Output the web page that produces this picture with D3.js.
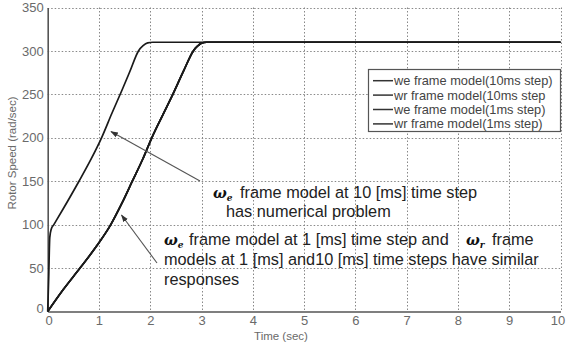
<!DOCTYPE html>
<html><head><meta charset="utf-8">
<script src="https://cdn.jsdelivr.net/npm/d3@7"></script>
<style>
body{margin:0;background:#fff;}
svg{display:block;}
</style></head>
<body>
<svg id="c" width="566" height="345"></svg>
<script>
// ---- data ----
const xTicks = [0,1,2,3,4,5,6,7,8,9,10];
const yTicks = [0,50,100,150,200,250,300,350];
const seriesNames = ["we frame model(10ms step)","wr frame model(10ms step","we frame model(1ms step)","wr frame model(1ms step)"];
const timeWe10 = [0,0.02,0.04,0.07,0.12,0.3,0.61,0.85,1.05,1.25,1.45,1.6,1.77,1.86,1.95,2.05,3,10];
const speedWe10 = [0,40,85,95,100,118,150,176,200,228,255,276,300,306,309.3,310,310,310];
const timeSlow = [0,0.3,0.63,0.95,1.23,1.45,1.65,1.85,2.03,2.25,2.44,2.65,2.84,2.93,3.0,3.1,4,10];
const speedWr10 = [0,25,50,75,100,125,150,175,200,227,250,277,300,306,309,310,310,310];
const speedWe1  = [0,25,50,75,100,125,150,175,200,227,250,277,300,306,309,310,310,310];
const speedWr1  = [0,25,50,75,100,125,150,175,200,227,250,277,300,306,309,310,310,310];
const annot1 = ["frame model at 10 [ms] time step","has numerical problem"];
const annot2 = ["frame model at 1 [ms] time step and","models at 1 [ms] and10 [ms] time steps have similar","responses"];

// ---- layout ----
const svg = d3.select("#c");
const L = 47.7, R = 560.5, T = 7.5, B = 311.5;
const x = d3.scaleLinear().domain([0,10]).range([L,R]);
const y = d3.scaleLinear().domain([0,350]).range([B,T]);

// grid
const grid = svg.append("g").attr("stroke","#888").attr("stroke-width",1).attr("stroke-dasharray","1.5,2");
grid.selectAll("line.v").data(xTicks.slice(1)).join("line")
  .attr("x1",d=>Math.round(x(d))+0.5).attr("x2",d=>Math.round(x(d))+0.5).attr("y1",T).attr("y2",B);
grid.selectAll("line.h").data(yTicks.slice(1)).join("line")
  .attr("y1",d=>Math.round(y(d))+0.5).attr("y2",d=>Math.round(y(d))+0.5).attr("x1",L).attr("x2",R);

// axes
const xAx = svg.append("g").attr("transform",`translate(0,${B})`)
  .call(d3.axisBottom(x).tickValues(xTicks).tickSize(0).tickPadding(4));
const yAx = svg.append("g").attr("transform",`translate(${L},0)`)
  .call(d3.axisLeft(y).tickValues(yTicks).tickSize(0).tickPadding(4));
[xAx,yAx].forEach(a=>{
  a.select(".domain").attr("stroke","#555").attr("stroke-width",1.6);
  a.selectAll("text").attr("fill","#6a6a6a").style("font-family","Liberation Sans, Arial, sans-serif").style("font-size","13px");
});
yAx.selectAll(".tick text").filter(d=>d===0).attr("dy","0.05em");
xAx.selectAll(".tick text").filter(d=>d===0).attr("dx","1px");
xAx.selectAll(".tick text").filter(d=>d===10).attr("dx","-3px");

// axis titles
svg.append("text").attr("x",281).attr("y",340).attr("text-anchor","middle")
  .attr("fill","#6a6a6a").style("font-family","Liberation Sans, Arial, sans-serif").style("font-size","11.5px").text("Time (sec)");
svg.append("text").attr("transform",`translate(16,${153}) rotate(-90)`).attr("text-anchor","middle")
  .attr("fill","#6a6a6a").style("font-family","Liberation Sans, Arial, sans-serif").style("font-size","11.5px").text("Rotor Speed (rad/sec)");

// lines
const line = d3.line().x(d=>x(d[0])).y(d=>y(d[1])).curve(d3.curveMonotoneX);
const series = [
  {t:timeSlow, v:speedWr1},
  {t:timeSlow, v:speedWe1},
  {t:timeSlow, v:speedWr10},
  {t:timeWe10, v:speedWe10}
];
svg.append("g").selectAll("path").data(series).join("path")
  .attr("d",s=>line(s.t.map((t,i)=>[t,s.v[i]])))
  .attr("fill","none").attr("stroke","#1a1a1a").attr("stroke-width",1.7).attr("stroke-linejoin","round");

// legend
const lg = svg.append("g");
lg.append("rect").attr("x",368.5).attr("y",69.5).attr("width",192).attr("height",62)
  .attr("fill","#fff").attr("stroke","#555").attr("stroke-width",1.2);
seriesNames.forEach((n,i)=>{
  const cy = 80.7 + i*14.4;
  lg.append("line").attr("x1",373).attr("x2",393).attr("y1",cy).attr("y2",cy).attr("stroke","#333").attr("stroke-width",1.5);
  lg.append("text").attr("x",394).attr("y",cy).attr("dy","0.35em").attr("fill","#444")
    .style("font-family","Liberation Sans, Arial, sans-serif").style("font-size","12.8px").text(n);
});

// annotations
const defs = svg.append("defs");
defs.append("marker").attr("id","ah").attr("viewBox","0 0 10 10").attr("refX",9).attr("refY",5)
  .attr("markerWidth",7).attr("markerHeight",7).attr("orient","auto")
  .append("path").attr("d","M0,1.5 L10,5 L0,8.5 z").attr("fill","#333");
function arrow(x1,y1,x2,y2){
  svg.append("line").attr("x1",x1).attr("y1",y1).attr("x2",x2).attr("y2",y2)
    .attr("stroke","#555").attr("stroke-width",1.1).attr("marker-end","url(#ah)");
}
arrow(200,181,111,131.5);
arrow(157,263,121.5,215);

const af = "Liberation Sans, Arial, sans-serif";
const fs = "16.3px";
function omega(g, xx, yy, sub){
  const t = g.append("text").attr("x",xx).attr("y",yy).attr("fill","#111")
    .style("font-family","DejaVu Serif, Liberation Serif, serif").style("font-weight","bold").style("font-style","italic").style("font-size","14.5px");
  t.append("tspan").text("ω");
  t.append("tspan").attr("dy",3).style("font-size","9px").text(sub);
}
function txt(g, xx, yy, s){
  g.append("text").attr("x",xx).attr("y",yy).attr("fill","#222").style("font-family",af).style("font-size",fs).text(s);
}
const ag = svg.append("g");
omega(ag,213,197.5,"e");
txt(ag,240,197.5,annot1[0]);
txt(ag,226,216.5,annot1[1]);

omega(ag,164,244.5,"e");
txt(ag,189,244.5,annot2[0]);
omega(ag,466,244.5,"r");
txt(ag,492,244.5,"frame");
txt(ag,164,264.5,annot2[1]);
txt(ag,164,284.5,annot2[2]);
</script>
</body></html>
